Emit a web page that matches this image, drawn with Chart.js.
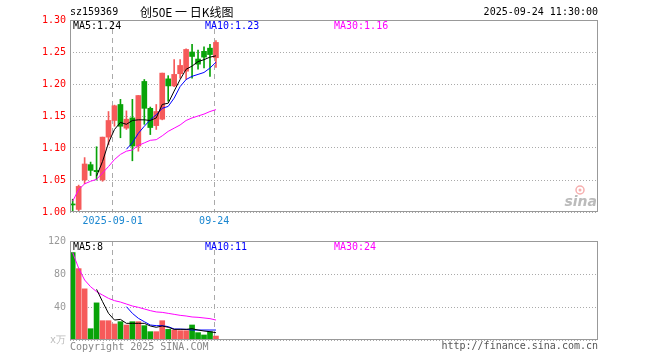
<!DOCTYPE html>
<html>
<head>
<meta charset="utf-8">
<script src="https://cdn.jsdelivr.net/npm/chart.js@4.4.0/dist/chart.umd.min.js"></script>
<style>
  body { margin: 0; background: #fff; }
  #wrap { position: relative; width: 660px; height: 360px; }
  canvas { position: absolute; left: 0; }
</style>
</head>
<body>
<div id="wrap">
  <canvas id="kline" width="660" height="232" style="top:0"></canvas>
  <canvas id="vol" width="660" height="132" style="top:228px"></canvas>
</div>
<script>
// daily K data, sz159369, 25 sessions
const openP  = [1.012, 1.004, 1.050, 1.074, 1.065, 1.050, 1.117, 1.143, 1.168, 1.131, 1.147, 1.103, 1.204, 1.162, 1.135, 1.145, 1.208, 1.197, 1.216, 1.220, 1.250, 1.239, 1.251, 1.256, 1.241];
const highP  = [1.020, 1.042, 1.085, 1.078, 1.102, 1.117, 1.157, 1.167, 1.176, 1.158, 1.176, 1.182, 1.207, 1.164, 1.168, 1.217, 1.213, 1.238, 1.238, 1.255, 1.262, 1.253, 1.258, 1.262, 1.268];
const lowP   = [1.001, 1.002, 1.044, 1.057, 1.050, 1.048, 1.105, 1.134, 1.116, 1.129, 1.080, 1.095, 1.137, 1.121, 1.129, 1.144, 1.173, 1.196, 1.209, 1.207, 1.209, 1.223, 1.225, 1.212, 1.226];
const closeP = [1.011, 1.040, 1.075, 1.065, 1.063, 1.117, 1.143, 1.166, 1.134, 1.145, 1.103, 1.182, 1.162, 1.132, 1.157, 1.217, 1.197, 1.215, 1.229, 1.254, 1.243, 1.231, 1.242, 1.246, 1.265];

const ma5  = [null, null, null, null, 1.056, 1.079, 1.108, 1.129, 1.140, 1.137, 1.143, 1.144, 1.144, 1.143, 1.147, 1.168, 1.170, 1.189, 1.207, 1.223, 1.228, 1.235, 1.238, 1.242, 1.244];
const ma10 = [null, null, null, null, null, null, null, null, null, 1.098, 1.108, 1.123, 1.134, 1.144, 1.152, 1.162, 1.165, 1.178, 1.196, 1.207, 1.212, 1.215, 1.218, 1.225, 1.234];
const ma30 = [1.017, 1.035, 1.044, 1.048, 1.051, 1.061, 1.071, 1.082, 1.090, 1.095, 1.097, 1.104, 1.108, 1.112, 1.113, 1.119, 1.126, 1.131, 1.136, 1.143, 1.147, 1.150, 1.153, 1.157, 1.160];

// volume, x万
const vol   = [106, 86.5, 62, 13.7, 45, 23.4, 23.4, 19.4, 22.2, 18.2, 22.2, 22.2, 17.4, 10.1, 10.1, 23.4, 12.9, 12.1, 11.3, 11.3, 18.2, 8.9, 6.1, 10.1, 4.8];
const vma5  = [null, null, null, null, 61.4, 46.5, 32.3, 24.2, 25, 20.2, 20.2, 20.2, 20.2, 17, 15.4, 17, 15.4, 12.9, 12.9, 12.9, 13.7, 12.1, 10.9, 10.1, 8.9];
const vma10 = [null, null, null, null, null, null, null, null, null, 40.4, 32.3, 26.3, 22.2, 18.2, 17.4, 17.4, 16.2, 13.3, 13.3, 12.9, 12.1, 12.1, 12.1, 12.1, 12.1];
const vma30 = [105.9, 87, 72.7, 64.6, 58.6, 54.5, 50.5, 47.7, 46, 43.6, 41.2, 39.6, 37.6, 35.6, 34, 33.5, 32.3, 31.1, 29.9, 29.1, 27.9, 27.5, 26.7, 25.9, 24.2];

// date marks (session index) and their labels
const dateIdx = [7, 24];
const dateLabels = ['2025-09-01', '09-24'];

const priceTicks = [1.00, 1.05, 1.10, 1.15, 1.20, 1.25, 1.30];
const volTicks = [0, 40, 80, 120];

const MONO = '"DejaVu Sans Mono", monospace';
const UP = '#f65a5a';
const DOWN = '#08a308';
const X_MIN = -0.45, X_MAX = 88;

const idx = openP.map((_, i) => i);
const candleColor = idx.map(i => closeP[i] >= openP[i] ? UP : DOWN);
const pts = arr => arr.map((v, i) => ({ x: i, y: v }));

function dateAxis(showLabels) {
  return {
    type: 'linear',
    min: X_MIN,
    max: X_MAX,
    bounds: 'data',
    offset: false,
    afterBuildTicks(s) { s.ticks = dateIdx.map(i => ({ value: i - 0.3 })); },
    ticks: {
      display: showLabels,
      autoSkip: false,
      maxRotation: 0,
      padding: 3,
      color: '#1a86d0',
      font: { family: MONO, size: 10 },
      callback: (v, i) => dateLabels[i]
    },
    grid: { color: '#aaa', drawTicks: false, offset: false },
    border: { display: false, dash: [5, 4] },
    afterFit(s) { s.height = showLabels ? 20 : 0; }
  };
}

function drawBox(ctx, a) {
  ctx.strokeStyle = '#999';
  ctx.lineWidth = 1;
  ctx.strokeRect(a.left + 0.5, a.top + 0.5, a.right - a.left - 1, a.bottom - a.top - 1);
}

function drawLegend(ctx, a, items) {
  ctx.font = '10px ' + MONO;
  ctx.textBaseline = 'middle';
  ctx.textAlign = 'left';
  const xs = [a.left + 3, a.left + 135, a.left + 264];
  items.forEach((it, k) => {
    ctx.fillStyle = it.color;
    ctx.fillText(it.text, xs[k], a.top + 6);
  });
}

const klineDecor = {
  id: 'klineDecor',
  beforeDatasetsDraw(chart) {
    const { ctx, chartArea: a } = chart;
    ctx.save();
    // sina watermark
    ctx.strokeStyle = 'rgba(240,120,120,0.6)';
    ctx.lineWidth = 1.5;
    ctx.beginPath();
    ctx.arc(a.right - 18, a.bottom - 22, 4, 0, Math.PI * 2);
    ctx.stroke();
    ctx.fillStyle = 'rgba(240,120,120,0.6)';
    ctx.beginPath();
    ctx.arc(a.right - 18, a.bottom - 22, 1.5, 0, Math.PI * 2);
    ctx.fill();
    ctx.font = 'italic bold 14px "DejaVu Sans", sans-serif';
    ctx.fillStyle = 'rgba(170,170,170,0.8)';
    ctx.textAlign = 'right';
    ctx.textBaseline = 'alphabetic';
    ctx.fillText('sina', a.right - 1, a.bottom - 6);
    ctx.restore();
  },
  afterDraw(chart) {
    const { ctx, chartArea: a } = chart;
    ctx.save();
    drawBox(ctx, a);
    // header
    ctx.fillStyle = '#000';
    ctx.textBaseline = 'middle';
    ctx.font = '10px ' + MONO;
    ctx.textAlign = 'left';
    ctx.fillText('sz159369', 70, 12);
    ctx.textAlign = 'right';
    ctx.fillText('2025-09-24 11:30:00', 598, 12);
    ctx.textAlign = 'left';
    ctx.font = '12px "Noto Sans CJK SC", sans-serif';
    ctx.fillText('创50E 一 日K线图', 140, 12);
    drawLegend(ctx, a, [
      { text: 'MA5:1.24', color: '#000' },
      { text: 'MA10:1.23', color: '#0000ff' },
      { text: 'MA30:1.16', color: '#ff00ff' }
    ]);
    ctx.restore();
  }
};

const volDecor = {
  id: 'volDecor',
  afterDraw(chart) {
    const { ctx, chartArea: a } = chart;
    ctx.save();
    drawBox(ctx, a);
    drawLegend(ctx, a, [
      { text: 'MA5:8', color: '#000' },
      { text: 'MA10:11', color: '#0000ff' },
      { text: 'MA30:24', color: '#ff00ff' }
    ]);
    ctx.font = '10px ' + MONO;
    ctx.textBaseline = 'middle';
    ctx.textAlign = 'left';
    ctx.fillStyle = '#888';
    ctx.fillText('Copyright 2025 SINA.COM', 70, a.bottom + 7);
    ctx.textAlign = 'right';
    ctx.fillStyle = '#555';
    ctx.fillText('http://finance.sina.com.cn', 598, a.bottom + 6);
    ctx.restore();
  }
};

const lineDs = (arr, color) => ({
  type: 'line',
  data: pts(arr),
  borderColor: color,
  borderWidth: 1,
  pointRadius: 0,
  fill: false,
  tension: 0,
  order: 0
});

new Chart(document.getElementById('kline'), {
  type: 'bar',
  data: {
    datasets: [
      lineDs(ma5, '#000'),
      lineDs(ma10, '#0000ff'),
      lineDs(ma30, '#ff00ff'),
      {
        data: idx.map(i => ({ x: i, y: [openP[i], closeP[i]] })),
        backgroundColor: candleColor,
        barThickness: 5,
        minBarLength: 1,
        grouped: false,
        order: 1
      },
      {
        data: idx.map(i => ({ x: i, y: [lowP[i], highP[i]] })),
        backgroundColor: candleColor,
        barThickness: 1,
        grouped: false,
        order: 2
      }
    ]
  },
  options: {
    responsive: false,
    animation: false,
    layout: { padding: { left: 0, right: 62, top: 20, bottom: 0 } },
    plugins: { legend: { display: false }, tooltip: { enabled: false } },
    scales: {
      x: dateAxis(true),
      y: {
        min: 1.0,
        max: 1.3,
        afterBuildTicks(s) { s.ticks = priceTicks.map(v => ({ value: v })); },
        ticks: {
          color: '#ff0000',
          padding: 4,
          font: { family: MONO, size: 10 },
          callback: v => Number(v).toFixed(2)
        },
        grid: { color: '#aaa', drawTicks: false },
        border: { display: false, dash: [1, 2] },
        afterFit(s) { s.width = 70; }
      }
    }
  },
  plugins: [klineDecor]
});

new Chart(document.getElementById('vol'), {
  type: 'bar',
  data: {
    datasets: [
      lineDs(vma5, '#000'),
      lineDs(vma10, '#0000ff'),
      lineDs(vma30, '#ff00ff'),
      {
        data: pts(vol),
        backgroundColor: candleColor,
        barThickness: 5,
        grouped: false,
        order: 1
      }
    ]
  },
  options: {
    responsive: false,
    animation: false,
    layout: { padding: { left: 0, right: 62, top: 13, bottom: 20 } },
    plugins: { legend: { display: false }, tooltip: { enabled: false } },
    scales: {
      x: dateAxis(false),
      y: {
        min: 0,
        max: 120,
        afterBuildTicks(s) { s.ticks = volTicks.map(v => ({ value: v })); },
        ticks: {
          padding: 4,
          font: { family: MONO, size: 10 },
          color: c => c.tick && c.tick.value === 0 ? '#bbb' : '#999',
          callback: v => v === 0 ? 'x万' : v
        },
        grid: { color: '#aaa', drawTicks: false },
        border: { display: false, dash: [1, 2] },
        afterFit(s) { s.width = 70; }
      }
    }
  },
  plugins: [volDecor]
});
</script>
</body>
</html>
